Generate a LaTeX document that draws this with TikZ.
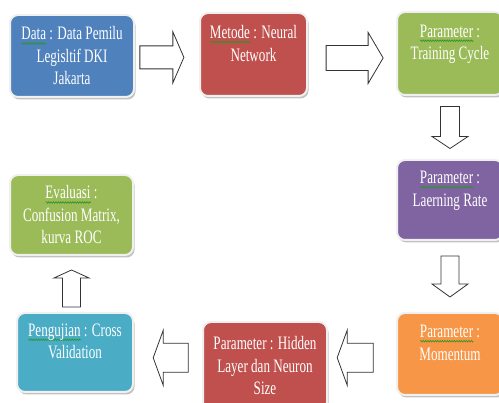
\documentclass[tikz,border=0pt]{standalone}
\usepackage{fontspec}
\usetikzlibrary{calc,shadows,decorations.pathmorphing}
\newfontfamily\boxfont[FakeStretch=0.69]{Liberation Serif}
\definecolor{BoxBlue}{HTML}{4F81BD}
\definecolor{BoxRed}{HTML}{C0504D}
\definecolor{BoxGreen}{HTML}{9BBB59}
\definecolor{BoxPurple}{HTML}{8064A2}
\definecolor{BoxOrange}{HTML}{F79646}
\definecolor{BoxCyan}{HTML}{4BACC6}
\definecolor{WaveGreen}{RGB}{40,150,40}
\tikzset{
  wave/.style={draw=WaveGreen, line width=0.6pt, sharp corners, solid, decorate,
      decoration={zigzag, segment length=2.4pt, amplitude=0.8pt}},
}
% green spell-check wave under a word
\newlength\wavelen
\newcommand{\spellwave}[1]{\settowidth\wavelen{#1}\leavevmode
  \rlap{\tikz[baseline=0pt]\draw[wave] (0pt,-3.5pt) -- (\wavelen,-3.5pt);}#1}
% block arrow: position, angle, length, head width, shaft width, head length
\newcommand{\blockarrow}[6]{%
  \draw[blockline, shift={#1}, rotate=#2]
    (-#3/2,-#5/2) -- (#3/2-#6,-#5/2) -- (#3/2-#6,-#4/2) -- (#3/2,0)
    -- (#3/2-#6,#4/2) -- (#3/2-#6,#5/2) -- (-#3/2,#5/2) -- cycle;}

\begin{document}
\begin{tikzpicture}[
    x=1pt, y=-1pt,
    box/.style={rectangle, rounded corners=8pt, draw=white!88!gray, line width=2pt,
        drop shadow={shadow xshift=1.5pt, shadow yshift=-2.5pt, fill=black!40, opacity=0.6},
        text=white, font=\boxfont\fontsize{19}{22.5}\selectfont, align=center, inner sep=2pt,
        execute at begin node={\rule{0pt}{23pt}}},
    blockline/.style={draw=black!80, fill=white, line width=0.8pt, line join=miter},
]
\useasboundingbox (0,0) rectangle (499,403);
\clip (0,0) rectangle (499,403);

\node[box, fill=BoxBlue, minimum width=124pt, minimum height=82pt] (data) at (72,56)
    {\spellwave{Data} : Data Pemilu\\Legisltif DKI\\Jakarta};
\node[box, fill=BoxRed, minimum width=107pt, minimum height=83pt] (metode) at (253.5,54.5)
    {\spellwave{Metode} : Neural\\Network\\ };
\node[box, fill=BoxGreen, minimum width=106pt, minimum height=83pt] (training) at (450,53.5)
    {\spellwave{Parameter} :\\Training Cycle\\ };
\node[box, fill=BoxPurple, minimum width=106pt, minimum height=80pt] (learning) at (450,200)
    {\spellwave{Parameter} :\\Laerning Rate\\ };
\node[box, fill=BoxOrange, minimum width=106pt, minimum height=82pt] (momentum) at (450,354)
    {\spellwave{Parameter} :\\Momentum\\ };
\node[box, fill=BoxRed, minimum width=124pt, minimum height=88pt] (hidden) at (265,366)
    {Parameter : Hidden\\Layer dan Neuron\\Size};
\node[box, fill=BoxCyan, minimum width=116pt, minimum height=79pt] (pengujian) at (75,352.5)
    {\spellwave{Pengujian} : Cross\\Validation\\ };
\node[box, fill=BoxGreen, minimum width=123pt, minimum height=80pt] (evaluasi) at (71.5,215)
    {\spellwave{Evaluasi} :\\Confusion Matrix,\\kurva ROC};

\blockarrow{($(data.east)!0.42!(metode.west)+(0,2)$)}{0}{44}{51}{23}{11}
\blockarrow{($(metode.east)!0.53!(training.west)+(0,4)$)}{0}{57}{51}{25}{15}
\blockarrow{($(training.south)!0.5!(learning.north)$)}{-90}{42}{36}{19}{12}
\blockarrow{($(learning.south)!0.5!(momentum.north)$)}{-90}{41}{36}{18}{13}
\blockarrow{($(momentum.west)!0.6!(hidden.east)+(0,-3.5)$)}{180}{36}{55}{29}{10}
\blockarrow{($(hidden.west)!0.46!(pengujian.east)+(0,-2)$)}{180}{35}{55}{29}{10}
\blockarrow{($(pengujian.north)!0.42!(evaluasi.south)+(-2,0)$)}{90}{37}{35}{18}{8}
\end{tikzpicture}
\end{document}
